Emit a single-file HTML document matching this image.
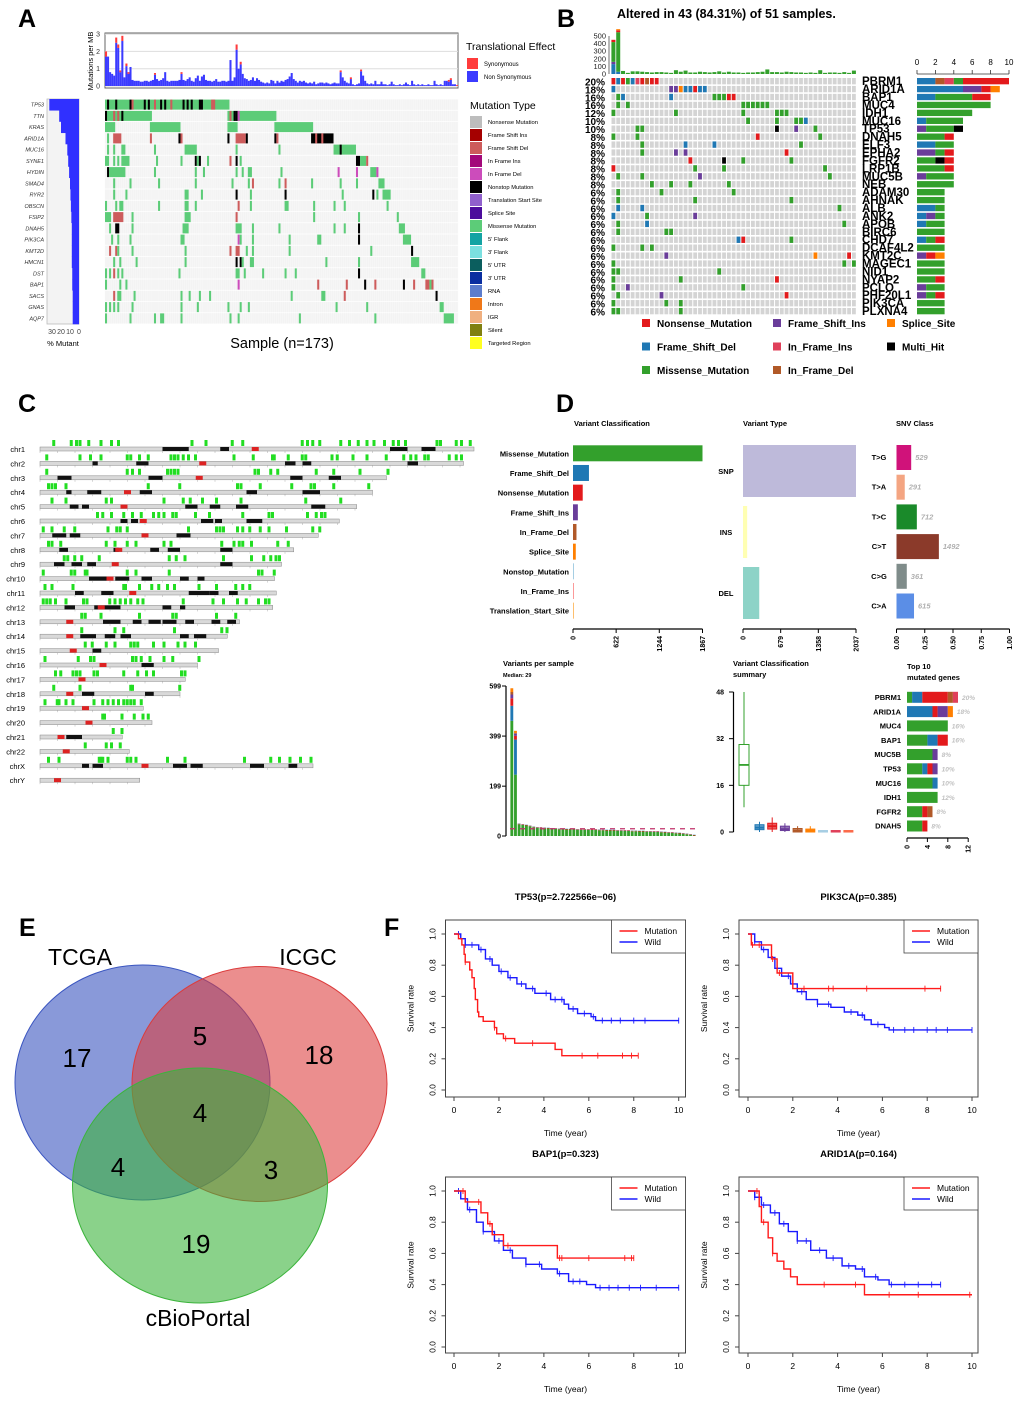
<!DOCTYPE html>
<html><head><meta charset="utf-8">
<style>
html,body{margin:0;padding:0;background:#fff;}
svg{display:block;font-family:"Liberation Sans",Arial,sans-serif;}
</style></head>
<body>
<svg id="fig" width="1020" height="1404" viewBox="0 0 1020 1404" xmlns="http://www.w3.org/2000/svg">
<rect width="1020" height="1404" fill="#fff"/>
<text x="18" y="27" font-size="25" font-weight="bold">A</text>
<text x="557" y="27" font-size="25" font-weight="bold">B</text>
<text x="18" y="412" font-size="25" font-weight="bold">C</text>
<text x="556" y="412" font-size="25" font-weight="bold">D</text>
<text x="19" y="936" font-size="25" font-weight="bold">E</text>
<text x="384" y="936" font-size="25" font-weight="bold">F</text>
<g id="gA"></g>
<g id="gB"></g>
<g id="gC"></g>
<g id="gD"></g>
<g id="gE"></g>
<g id="gF"></g>
</svg>
<script>
// ================= DATA =================
// Panel A
const aGenes = ['TP53','TTN','KRAS','ARID1A','MUC16','SYNE1','HYDIN','SMAD4','RYR2','OBSCN','FSIP2','DNAH5','PIK3CA','KMT2D','HMCN1','DST','BAP1','SACS','GNAS','AQP7'];
const aPctMutant = [33,22,20,15,13,12,11,10,9.5,9,8.5,8,8,8,8,7.5,7.5,7,7,7];
// segments "start-end:type" ; M missense, B nonstop, D frame shift del, I frame shift ins, F in frame del
const aSegments = [
 '0-60:M 1:B 5:B 12:B 13:D 19:B 21:B 24:D 27:B 29:B 32:D 38:B 40:B 42:B 46-47:B 52-53:D',
 '0-22:M 0:B 4:D 6:D 8:B 60-83:M 61:D 63:B 64:B 65:F',
 '0-4:M 22-36:M 60-64:M 83-101:M',
 '1:M 4-7:D 22:D 36:B 37:D 60:B 64-68:D 69:B 83:B 84:D 101-111:B 103:D 106:D',
 '1:M 4:M 8-9:M 24:M 39-44:M 64:M 85:M 112-122:M 115:B',
 '0-1:M 4:M 6:M 8-11:M 25:M 37:M 44:B 45:M 46:B 50:M 61:D 64:B 66:M 123-124:B 125-127:M 128:D',
 '1:B 2-9:M 24:M 44:M 48:M 64:M 67:M 70-71:M 86:M 114:F 123:F 130-132:M 133:F',
 '4:M 12:M 26:M 44:M 62:M 70:M 72:D 85:M 88:D 101:M 115:M 123:M 134-136:M',
 '4:M 10:M 39-40:M 47:M 64:B 71:M 88:B 116:M 131:B 133:M 136-139:M',
 '0:M 5:M 7-8:M 26:M 39-40:M 44:M 65:D 71:M 88-89:M 102:M 112:M 117:M 138:M',
 '0-2:M 4-8:D 13:M 39-41:M 64:D 102:M 124:M 143:M',
 '2:M 5-6:B 13:M 38-40:M 64-66:M 72:M 85:M 112:M 117:M 124:B 144-146:M',
 '3:M 6:M 12:M 37-38:M 65:F 66:M 72:M 90:M 104-105:M 124:B 146-149:M',
 '2:D 5:D 6:M 13:M 39:M 61:D 64-65:D 69:M 72:M 90:M 130:M 150:B',
 '4:M 7:M 15:M 39:M 64:B 66:B 67:M 71-72:M 108:M 124:M 150-153:M',
 '0:M 2:M 4:D 6:M 8:M 36:M 64-65:M 68:M 77:M 88:M 93:M 124:B 155-156:M',
 '0:M 7:M 10:M 65:F 104:D 118:D 127:B 132:D 146:B 151:D 157-158:D 159:M 160:D',
 '4:D 6-7:M 14:M 37:M 41:M 46:M 51:M 91:M 106-107:M 117:D 162:B',
 '0:M 2:M 4:M 6:M 13:M 37:M 45:M 60:M 66:M 70:M 113:M 128:M 164-165:M',
 '0:M 12:M 24:M 27-28:M 37:M 61:M 65:M 95:M 132:M 166-170:M'
];
const aTmb = [2.0,1.7,0.8,0.7,0.6,2.8,2.4,0.9,2.9,0.5,1.3,0.8,1.1,0.35,0.3,0.3,0.3,0.25,0.25,0.3,
0.3,0.25,0.3,0.35,0.75,0.4,0.3,0.35,0.45,0.8,0.3,0.25,0.3,0.3,0.3,0.3,0.35,0.8,0.35,0.3,
0.4,0.5,0.3,0.25,0.45,0.6,0.3,0.55,0.65,0.35,0.3,0.3,0.25,0.3,0.4,0.25,0.25,0.3,0.3,0.25,
0.3,1.5,0.3,0.5,2.4,1.0,1.4,0.7,0.45,0.4,0.3,0.35,0.5,0.3,0.45,0.35,0.25,0.2,0.15,0.2,
0.15,0.35,0.3,0.15,0.3,0.2,0.3,0.25,0.35,0.4,0.55,0.75,0.4,0.3,0.2,0.3,0.25,0.3,0.2,0.15,
0.2,0.15,0.25,0.1,0.15,0.2,0.2,0.15,0.2,0.15,0.1,0.15,0.2,0.15,0.15,0.9,0.5,0.3,0.2,0.15,
0.5,0.1,0.05,0.1,0.15,0.95,0.6,0.3,0.15,0.1,0.15,0.1,0.3,0.1,0.1,0.25,0.1,0.1,0.05,0.1,
0.25,0.1,0.05,0.05,0.1,0.05,0.1,0.2,0.1,0.05,0.3,0.1,0.05,0.1,0.05,0.1,0.05,0.05,0.1,0.05,
0.05,0.3,0.1,0.05,0.1,0.05,0.3,0.3,0.35,0.45,0.1,0.1,0.05];
const aSynSamples = [0,5,6,7,8,10,11,24,37,64,66,115,120,125,168,169,172];
const aSynValues = [0.3,0.3,0.2,0.1,0.3,0.15,0.1,0.1,0.1,0.3,0.15,0.1,0.1,0.1,0.1,0.1,0.05];
const aTmbTicks = [0,1,2,3];
const aPctTicks = [30,20,10,0];
const aMutTypes = ['Nonsense Mutation','Frame Shift Ins','Frame Shift Del','In Frame Ins','In Frame Del','Nonstop Mutation','Translation Start Site','Splice Site','Missense Mutation',"5' Flank","3' Flank","5' UTR","3' UTR",'RNA','Intron','IGR','Silent','Targeted Region'];
const aMutColors = ['#bdbdbd','#a50000','#cd5c5c','#a3087a','#cc4cbb','#000000','#9060cc','#4c0c9c','#5ccc78','#13a3a3','#7be0e0','#0b5e5e','#0a2ea0','#5c7ccc','#f07818','#f0b080','#808010','#ffff20'];

// Panel B
const bGenes = ['PBRM1','ARID1A','BAP1','MUC4','IDH1','MUC16','TP53','DNAH5','ELF3','EPHA2','FGFR2','LRP1B','MUC5B','NEB','ADAM30','AHNAK','ALB','ANK2','APOB','BIRC6','CHD7','DCAF4L2','KMT2C','MAGEC1','NID1','NYAP2','PCLO','PHF20L1','PIK3CA','PLXNA4'];
const bPct = ['20%','18%','16%','16%','12%','10%','10%','8%','8%','8%','8%','8%','8%','8%','6%','6%','6%','6%','6%','6%','6%','6%','6%','6%','6%','6%','6%','6%','6%','6%'];
// codes: N nonsense, D FS del, M missense, I FS ins, P in frame ins, X multi hit, S splice, R in frame del
const bCells = [
 '0N 1D 2N 3M 4D 5P 6N 7R 8N 9N','0D 12I 13I 14S 15D 16D 17N 18D 19D','1M 2D 12D 21M 22M 23M 24N 25N','1M 3M 27M 28M 29M 30M 31M 32M',
 '0M 13M 27M 34M 35M 36M','28M 34M 38M 39M 40D','5M 6M 34X 38I 42M','0M 5M 30N 43M','6M 15D 21D 39M','6M 13I 15I 36N',
 '16N 23X 27M 37M','0N 17M 23M 44M','1M 6M 18I 45M','8M 12M 16M 24M','1M 10M 25M','1M 17M 37M','1D 6D 47M','0D 7M 17I',
 '1M 7D 48M','1M 11M 12M','26D 27N 37M','0M 6M 8M','11I 42S 49N','0M 48M 50M','0M 1M 22M','0M 14M 34N','0M 3I 27M','1M 10I 36N','0M 11M 14M','0M 1M 14M'];
const bGeneCounts = [
 'D2 R1 P1 M1 N5','D5 I2 N1 S1','D2 M4 N2','M8','M6','D1 M4','I1 M3 X1','M3 N1','D2 M2','I2 M1 N1','M2 X1 N1','M3 N1','I1 M3','M4','M3','M3','D2 M1','D1 I1 M1','D1 M2','M3','D1 M1 N1','M3','I1 N1 S1','M3','M3','M2 N1','I1 M2','I1 M1 N1','M3','M3'];
const bSampleTotals = [450,590,40,15,35,35,30,25,20,25,25,20,15,50,30,45,20,20,30,25,20,25,35,20,30,20,20,15,20,20,25,30,60,25,25,20,30,25,20,20,15,20,15,50,15,20,20,15,25,15,45];
const bFirstSampleParts = [['D',130],['I',30],['M',260],['N',30]];
const bSecondSampleParts = [['D',30],['M',520],['N',25],['S',15]];
const bAxisTicks = [0,2,4,6,8,10];
const bTopTicks = [0,100,200,300,400,500];
const bLegendNames = ['Nonsense_Mutation','Frame_Shift_Ins','Splice_Site','Frame_Shift_Del','In_Frame_Ins','Multi_Hit','Missense_Mutation','In_Frame_Del'];
const bLegendCodes = ['N','I','S','D','P','X','M','R'];
const bColors = {N:'#e31a1c',D:'#1f78b4',M:'#33a02c',I:'#6a3d9a',P:'#e0405a',X:'#000000',S:'#ff7f00',R:'#b15928'};

// Panel C
const cChroms = ['chr1','chr2','chr3','chr4','chr5','chr6','chr7','chr8','chr9','chr10','chr11','chr12','chr13','chr14','chr15','chr16','chr17','chr18','chr19','chr20','chr21','chr22','chrX','chrY'];
const cLengths = [248,242,198,190,181,171,159,145,138,134,135,133,114,107,102,90,83,80,59,64,47,51,156,57];
const cCentromere = [123,93,91,50,48,59,60,45,43,40,53,35,17,17,19,36,24,17,26,28,12,15,60,10];
const cBands = [[[70,85],[103,108],[200,210],[218,226]],[[30,33],[55,62],[140,146],[150,155],[210,216]],[[10,18],[62,70],[143,150],[165,172]],[[15,18],[27,35],[57,64],[118,124],[150,160]],[[17,22],[24,28],[83,90],[97,103],[112,119],[155,163]],[[46,50],[52,56],[92,99],[100,104],[118,127]],[[7,15],[17,23],[78,86]],[[11,16],[42,45],[63,68],[73,80],[103,110]],[[8,14],[18,24],[27,32],[103,110]],[[28,38],[43,51],[58,64],[80,85],[90,94]],[[20,25],[35,42],[85,97],[97,102],[108,113]],[[14,20],[31,46],[70,75],[80,83]],[[36,46],[53,58],[62,69],[70,78],[83,88],[98,103],[107,112]],[[23,32],[37,43],[46,52],[80,85],[88,95]],[[30,35]],[[58,65]],[[]],[[24,31],[60,65]],[[]],[[]],[[15,24]],[[]],[[24,28],[30,36],[76,84],[86,93],[120,128],[142,147]],[[]]];
const cMutations = [
 [7,17,20,22,27,34,40,44,86,94,109,115,149,152,155,159,171,176,181,186,190,196,201,204,208,226,228,237,240,245],
 [3,22,28,34,49,51,56,61,74,76,78,81,84,88,110,121,132,133,141,149,151,166,169,178,186,197,207,211,214,219,221,233,237,240],
 [3,49,52,56,72,74,76,78,122,124,131,135,157,167,182,198],
 [4,6,8,14,61,79,112,114,125,143,154,156,167,187],
 [6,14,37,40,70,81,85,92,100,114,151,171],
 [32,35,40,47,52,57,64,67,70,75,77,88,96,115,130,132,152,157,160,162],
 [1,6,13,19,38,43,45,49,84,100,102,104,112,115,119,125,130,140,155,159],
 [4,6,11,37,42,49,54,70,74,103,110,113,115,120,135,141],
 [13,15,19,23,33,73,77,82,104,120,127,131,134,136],
 [1,17,19,25,26,49,54,73,124,126,133],
 [2,6,18,47,48,56,63,67,72,76,90,100,111,115,119],
 [1,3,5,8,14,24,26,39,42,45,48,51,55,58,81,98,104,112,117,124,128,130],
 [23,25,34,56,75,77,100,111],
 [23,42,47,76,103,106],
 [25,29,37,42,51,53,55,64,70,78,82,88],
 [2,21,28,30,52,54,57,62,70,75,90],
 [8,11,18,20,22,30,32,47,55,60,64,80,82],
 [7,22,51,52,79],
 [2,9,10,14,18,30,35,38,41,44,47,49,51,53,57],
 [35,36,46,53,58,61],
 [41,46],
 [25,37,40,45],
 [4,10,33,34,35,38,49,51,54,72,82,116,131,136,142,148,154],
 []
];
const cAxisTickStep = 10;

// Panel D
const dVcNames = ['Missense_Mutation','Frame_Shift_Del','Nonsense_Mutation','Frame_Shift_Ins','In_Frame_Del','Splice_Site','Nonstop_Mutation','In_Frame_Ins','Translation_Start_Site'];
const dVcValues = [1867,230,140,70,50,40,5,8,6];
const dVcColors = ['#33a02c','#1f78b4','#e31a1c','#6a3d9a','#b15928','#ff7f00','#a6cee3','#fb9a99','#fdbf6f'];
const dVcTicks = [0,622,1244,1867];
const dVtNames = ['SNP','INS','DEL'];
const dVtValues = [2037,75,293];
const dVtColors = ['#bebada','#ffffb3','#8dd3c7'];
const dVtTicks = [0,679,1358,2037];
const dSnvNames = ['T>G','T>A','T>C','C>T','C>G','C>A'];
const dSnvCounts = [529,291,712,1492,361,615];
const dSnvFractions = [0.13,0.073,0.18,0.375,0.091,0.155];
const dSnvColors = ['#d0127a','#f4a582','#1a8a2a','#8b3a2a','#7f8c8a','#5b8ee6'];
const dSnvTicks = ['0.00','0.25','0.50','0.75','1.00'];
const dVpsTotals = [590,420,50,47,45,42,38,36,35,34,33,32,31,30,30,29,29,29,28,28,28,27,27,27,26,26,25,25,25,24,24,23,23,22,22,21,21,20,20,19,19,18,17,16,15,14,13,12,10,8,5];
const dVpsFirst = [['M',460],['D',60],['N',30],['I',15],['R',10],['S',15]];
const dVpsSecond = [['M',245],['D',140],['N',15],['I',10],['S',10]];
const dVpsTicks = [0,199,399,599];
const dVpsMedian = 29;
const dBoxColors = ['#33a02c','#1f78b4','#e31a1c','#6a3d9a','#b15928','#ff7f00','#a6cee3','#e0405a','#fb6a4a'];
const dBoxQ1 = [16,0.8,1,0.5,0,0,0,0,0];
const dBoxMed = [23,1.5,2,1,0.5,0.5,0.3,0.3,0.3];
const dBoxQ3 = [30,2.5,3,2,1.2,1,0.5,0.5,0.5];
const dBoxMin = [8.5,0,0,0,0,0,0,0,0];
const dBoxMax = [48,3.5,5,3,2,2,0.5,0.5,0.5];
const dBoxTicks = [0,16,32,48];
const dTopGenes = ['PBRM1','ARID1A','MUC4','BAP1','MUC5B','TP53','MUC16','IDH1','FGFR2','DNAH5'];
const dTopParts = ['M1 D2 N5 R1 P1','D5 N1 I2 S1','M8','M4 D2 N2','M5 I1','M3 D1 N1 I1','M5 D1','M6','M3 N1 R1','M3 N1'];
const dTopPct = ['20%','18%','16%','16%','8%','10%','10%','12%','8%','8%'];
const dTopTicks = [0,4,8,12];

// Panel E
const eSetNames = ['TCGA','ICGC','cBioPortal'];
const eRegionCounts = [17,5,18,4,4,3,19];

// Panel F
const fTitles = ['TP53(p=2.722566e−06)','PIK3CA(p=0.385)','BAP1(p=0.323)','ARID1A(p=0.164)'];
const fMutT = [[0,0.2,0.35,0.45,0.5,0.7,0.8,0.9,0.95,1.05,1.1,1.3,1.8,1.9,2.2,2.7,4.5,4.8,8.2],[0,0.15,1.05,1.3,2,8.6],[0,0.5,1.2,1.5,1.7,2.2,4.6,8],[0,0.5,0.6,0.9,1.1,1.3,1.6,1.9,2.2,5.2,10]];
const fMutS = [[1,0.97,0.93,0.87,0.82,0.77,0.72,0.65,0.58,0.5,0.47,0.44,0.4,0.36,0.33,0.3,0.26,0.22,0.22],[1,0.93,0.84,0.75,0.65,0.65],[1,0.93,0.86,0.79,0.72,0.65,0.57,0.57],[1,0.9,0.8,0.7,0.6,0.55,0.5,0.45,0.4,0.335,0.335]];
const fWildT = [[0,0.3,0.5,1.1,1.4,1.7,2,2.4,2.8,3.2,3.6,4.3,4.9,5.1,5.5,6.1,6.3,10],[0,0.3,0.6,0.9,1.2,1.5,1.9,2.2,2.6,3.1,3.7,4.3,4.9,5.2,5.5,6.1,6.3,10],[0,0.3,0.6,1,1.3,1.8,2.2,2.6,3.2,3.9,4.6,5.1,5.9,6.3,10],[0,0.3,0.6,1,1.4,1.8,2.2,2.8,3.5,4.2,4.8,5.2,5.8,6.3,8.6]];
const fWildS = [[1,0.97,0.93,0.9,0.84,0.8,0.76,0.72,0.68,0.65,0.62,0.58,0.55,0.52,0.49,0.47,0.445,0.445],[1,0.95,0.9,0.85,0.78,0.73,0.68,0.63,0.58,0.55,0.53,0.5,0.48,0.45,0.42,0.4,0.385,0.385],[1,0.95,0.88,0.8,0.74,0.68,0.62,0.57,0.53,0.5,0.47,0.42,0.4,0.38,0.38],[1,0.96,0.91,0.86,0.79,0.74,0.68,0.62,0.57,0.52,0.5,0.45,0.43,0.4,0.4]];
const fMutCensor = [[0.5,1.8,2.3,3.5,5.7,6.4,7.5,7.9,8.2],[0.2,0.5,1.1,1.4,2.5,3.6,3.8,5.3,7.9,8.6],[0.4,1.1,1.6,2.4,4.7,4.8,6,7.6,7.9,8],[0.4,0.7,1.1,3.4,4.8,6.3,7.6,9.9]];
const fWildCensor = [[0.2,0.5,0.8,1.2,1.6,2.1,2.5,3,3.5,4.1,4.5,4.8,5.3,5.8,6.2,6.6,7,7.4,8,8.5,10],[0.3,0.7,1.3,1.8,2.4,3.1,3.6,4.6,5.1,5.8,6.5,7,7.4,8,8.4,8.9,10],[0.2,0.7,1.3,2,2.5,3.2,3.8,4.7,5.3,5.6,6.5,6.9,7.3,7.8,8.3,9,10],[0.3,0.7,1.2,1.6,2.2,2.6,3.2,3.8,4.5,5.1,5.7,6.4,7,7.6,8.2,8.6]];
const fXTicks = [0,2,4,6,8,10];
const fYTicks = ['0.0','0.2','0.4','0.6','0.8','1.0'];

// ================= DRAW =================
const NS = 'http://www.w3.org/2000/svg';
function mk(tag, attrs, parent){
  const e = document.createElementNS(NS, tag);
  for (const k in attrs) e.setAttribute(k, attrs[k]);
  parent.appendChild(e);
  return e;
}
function tx(x, y, s, attrs, parent){
  const e = mk('text', Object.assign({x:x, y:y}, attrs), parent);
  e.textContent = s;
  return e;
}
function parseCodes(str){ return str.split(' ').filter(Boolean).map(t=>[t[0], parseFloat(t.slice(1))]); }

// ---------- Panel A ----------
(function(){
  const g = document.getElementById('gA');
  const gx0 = 105, gx1 = 458, gy0 = 99, rowH = 11.25, n = 173;
  const sw = (gx1-gx0)/n;
  const sx = i => gx0 + i*sw;
  const tmbY = v => 86 - v*17.3;
  // top frame
  let e = mk('rect',{x:gx0,y:33,width:gx1-gx0,height:55,fill:'#fff',stroke:'#666','stroke-width':1},g);
  
  
  aTmbTicks.forEach(t=>{
    e = mk('line',{x1:gx0,x2:gx1,y1:tmbY(t),y2:tmbY(t),stroke:'#ddd','stroke-width':1},g);
    
    
    e = tx(gx0-5,tmbY(t)+2.5,String(t),{'font-size':7,'text-anchor':'end',fill:'#333'},g);
    
    
  });
  e = tx(0,0,'Mutations per MB',{'font-size':7.5,'text-anchor':'middle',transform:'translate(93,61) rotate(-90)'},g);
  
  
  aTmb.forEach((v,i)=>{
    const si = aSynSamples.indexOf(i);
    const syn = si>=0 ? aSynValues[si] : 0;
    const non = v - syn;
    e = mk('rect',{x:sx(i),y:tmbY(non),width:sw,height:non*17.3,fill:'#3b3bff'},g);
    
    
    if (syn>0){
      e = mk('rect',{x:sx(i),y:tmbY(v),width:sw,height:syn*17.3,fill:'#ff3b3b'},g);
      
      
    }
  });
  // translational legend
  e = tx(466,50,'Translational Effect',{'font-size':10.5},g);
  
  
  [['Synonymous','#ff3b3b',58],['Non Synonymous','#3b3bff',71]].forEach(([n2,c,y])=>{
    e = mk('rect',{x:467,y:y,width:11,height:11,fill:c},g);
    
    
    e = tx(484,y+8,n2,{'font-size':6},g);
    
    
  });
  // grid background
  e = mk('rect',{x:gx0,y:gy0,width:gx1-gx0,height:rowH*20,fill:'#f3f3f3'},g);
  
  
  for (let i=0;i<=n;i+=1){
    e = mk('line',{x1:sx(i),x2:sx(i),y1:gy0,y2:gy0+rowH*20,stroke:'#fbfbfb','stroke-width':0.4},g);
    
    
  }
  const codeColor = {M:'#5ccc78',B:'#000',D:'#cd5c5c',I:'#a50000',F:'#cc4cbb'};
  aSegments.forEach((segs,r)=>{
    const y = gy0 + r*rowH + 0.6;
    segs.split(' ').forEach(s=>{
      const [rng,t] = s.split(':');
      const p = rng.split('-').map(Number);
      const a = p[0], b = p.length>1 ? p[1] : p[0];
      e = mk('rect',{x:sx(a),y:y,width:(b-a+1)*sw,height:rowH-1.2,fill:codeColor[t]},g);
      
      
    });
  });
  for (let r=0;r<=20;r++){
    e = mk('line',{x1:gx0,x2:gx1,y1:gy0+r*rowH,y2:gy0+r*rowH,stroke:'#fff','stroke-width':0.8},g);
    
    
  }
  // left bar
  const lx0 = 47, lx1 = 79;
  const px = p => lx1 - p*0.9;
  e = mk('rect',{x:lx0,y:gy0,width:lx1-lx0,height:rowH*20,fill:'#f3f3f3',stroke:'#bbb','stroke-width':0.8},g);
  
  
  aPctMutant.forEach((p,r)=>{
    e = mk('rect',{x:px(p),y:gy0+r*rowH,width:p*0.9,height:rowH+0.3,fill:'#3030ff'},g);
    
    
    e = tx(44,gy0+r*rowH+rowH/2+2,aGenes[r],{'font-size':5.5,'font-style':'italic','text-anchor':'end',fill:'#333'},g);
    
    
  });
  aPctTicks.forEach(t=>{
    e = tx(px(t),334,String(t),{'font-size':7,'text-anchor':'middle',fill:'#444'},g);
    
    
  });
  e = tx(63,346,'% Mutant',{'font-size':7.5,'text-anchor':'middle'},g);
  
  
  e = tx(282,348,'Sample (n=173)',{'font-size':14.5,'text-anchor':'middle'},g);
  
  
  e = tx(470,109,'Mutation Type',{'font-size':10.5},g);
  
  
  aMutTypes.forEach((m,i)=>{
    const y = 116 + i*13;
    e = mk('rect',{x:470,y:y,width:12,height:12,fill:aMutColors[i]},g);
    
    
    e = tx(488,y+8,m,{'font-size':5.8},g);
    
    
  });
})();

// ---------- Panel B ----------
(function(){
  const g = document.getElementById('gB');
  const x0 = 611, cw = 4.81, y0 = 78, rh = 7.93;
  let e = tx(617,18,'Altered in 43 (84.31%) of 51 samples.',{'font-size':12.5,'font-weight':'bold'},g);
  
  
  const topY = v => 74 - v*0.076;
  bTopTicks.forEach(t=>{
    e = tx(606,topY(t)+2.5,String(t),{'font-size':7.5,'text-anchor':'end',fill:'#222'},g);
    
    
  });
  e = mk('line',{x1:609,x2:609,y1:topY(500),y2:74,stroke:'#333','stroke-width':0.7},g);
  
  
  bSampleTotals.forEach((v,i)=>{
    let parts = i===0 ? bFirstSampleParts : (i===1 ? bSecondSampleParts : [['M',v]]);
    let acc = 0;
    parts.forEach(([c,val])=>{
      e = mk('rect',{x:x0+i*cw+0.4,y:topY(acc+val),width:cw-0.8,height:val*0.076,fill:bColors[c]},g);
      
      
      acc += val;
    });
  });
  bGenes.forEach((gn,r)=>{
    const y = y0 + r*rh;
    for (let c=0;c<51;c++){
      e = mk('rect',{x:x0+c*cw+0.5,y:y,width:cw-1,height:rh-1.6,fill:'#d4d4d4'},g);
      
      
    }
    bCells[r].split(' ').forEach(t=>{
      const c = parseInt(t), code = t.slice(-1);
      e = mk('rect',{x:x0+c*cw+0.5,y:y,width:cw-1,height:rh-1.6,fill:bColors[code]},g);
      
      
    });
    e = tx(605,y+rh-0.5,bPct[r],{'font-size':10,'font-weight':'bold','text-anchor':'end'},g);
    
    
    e = tx(862,y+rh-0.8,gn,{'font-size':11.5,'font-weight':'bold'},g);
    
    
    let acc = 0;
    parseCodes(bGeneCounts[r]).forEach(([c,v])=>{
      e = mk('rect',{x:917+acc*9.2,y:y,width:v*9.2,height:rh-1.6,fill:bColors[c]},g);
      
      
      acc += v;
    });
  });
  e = mk('line',{x1:917,x2:1009,y1:74,y2:74,stroke:'#333','stroke-width':0.8},g);
  
  
  bAxisTicks.forEach(t=>{
    e = mk('line',{x1:917+t*9.2,x2:917+t*9.2,y1:70,y2:74,stroke:'#333','stroke-width':0.8},g);
    
    
    e = tx(917+t*9.2,65,String(t),{'font-size':8,'text-anchor':'middle'},g);
    
    
  });
  bLegendNames.forEach((nm,i)=>{
    const col = i%3, row = Math.floor(i/3);
    const x = [642,773,887][col], y = 323 + row*23.5;
    e = mk('rect',{x:x,y:y-4,width:8,height:8,fill:bColors[bLegendCodes[i]]},g);
    
    
    e = tx(x+15,y+4,nm,{'font-size':10,'font-weight':'bold'},g);
    
    
  });
})();

// ---------- Panel C ----------
(function(){
  const g = document.getElementById('gC');
  const x0 = 40, k = 1.75, y0 = 450, dy = 14.4;
  cChroms.forEach((ch,i)=>{
    const y = y0 + i*dy;
    let e = tx(25,y+2,ch,{'font-size':7.5,'text-anchor':'end'},g);
    
    
    cMutations[i].forEach(m=>{
      e = mk('rect',{x:x0+m*k,y:y-10,width:3,height:6,fill:'#22dd22'},g);
      
      
    });
    e = mk('rect',{x:x0,y:y-3,width:cLengths[i]*k,height:4,fill:'#d9d9d9',stroke:'#888','stroke-width':0.5},g);
    
    
    cBands[i].forEach(b=>{
      if (b.length<2) return;
      e = mk('rect',{x:x0+b[0]*k,y:y-3,width:(b[1]-b[0])*k,height:4,fill:'#111'},g);
      
      
    });
    e = mk('rect',{x:x0+(cCentromere[i]-2)*k,y:y-3,width:4*k,height:4,fill:'#d22'},g);
    
    
    for (let t=0;t<=cLengths[i];t+=cAxisTickStep){
      e = mk('line',{x1:x0+t*k,x2:x0+t*k,y1:y+1,y2:y+3,stroke:'#999','stroke-width':0.4},g);
      
      
    }
  });
})();

// ---------- Panel D ----------
(function(){
  const g = document.getElementById('gD');
  let e;
  const title = (x,y,s)=>{ const t = tx(x,y,s,{'font-size':7.5,'font-weight':'bold'},g); return t; };
  e = title(574,426,'Variant Classification');
  
  
  e = title(743,426,'Variant Type');
  
  
  e = title(896,426,'SNV Class');
  
  
  // Variant classification
  const vcX = v => 573 + v/1867*129.5;
  dVcNames.forEach((nm,i)=>{
    const yc = 453.3 + i*19.67;
    e = mk('rect',{x:573,y:yc-8,width:Math.max(1,vcX(dVcValues[i])-573),height:16,fill:dVcColors[i]},g);
    
    
    e = tx(569,yc+3,nm,{'font-size':7.5,'font-weight':'bold','text-anchor':'end'},g);
    
    
  });
  const axis = (x0,x1,y,ticks,fx,name)=>{
    let a = mk('line',{x1:x0,x2:x1,y1:y,y2:y,stroke:'#000','stroke-width':1.3},g);
    
    
    ticks.forEach(t=>{
      const x = fx(t);
      a = mk('line',{x1:x,x2:x,y1:y,y2:y+4,stroke:'#000','stroke-width':1},g);
      
      
      a = tx(0,0,String(t),{'font-size':7,'font-weight':'bold','text-anchor':'end',transform:'translate('+(x+2.5)+','+(y+7)+') rotate(-90)'},g);
      
      
    });
  };
  axis(573,702.5,629,dVcTicks,vcX,'d-vc');
  const vtX = v => 743 + v/2037*113;
  dVtNames.forEach((nm,i)=>{
    const y = 445 + i*61;
    e = mk('rect',{x:743,y:y,width:vtX(dVtValues[i])-743,height:52,fill:dVtColors[i]},g);
    
    
    e = tx(726,y+29,nm,{'font-size':7.5,'font-weight':'bold','text-anchor':'middle'},g);
    
    
  });
  axis(743,856,629,dVtTicks,vtX,'d-vt');
  const snX = v => 896.5 + v*113;
  dSnvNames.forEach((nm,i)=>{
    const y = 445 + i*29.7;
    e = mk('rect',{x:896.5,y:y,width:dSnvFractions[i]*113,height:25,fill:dSnvColors[i]},g);
    
    
    e = tx(879,y+15,nm,{'font-size':7.5,'font-weight':'bold','text-anchor':'middle'},g);
    
    
    e = tx(snX(dSnvFractions[i])+4,y+15,String(dSnvCounts[i]),{'font-size':7.5,'font-style':'italic','font-weight':'bold',fill:'#b0b0b0'},g);
    
    
  });
  axis(896.5,1009.5,629,dSnvTicks,t=>snX(parseFloat(t)),'d-snv');
  // Variants per sample
  e = title(503,666,'Variants per sample');
  
  
  e = tx(503,677,'Median: 29',{'font-size':5.5,'font-weight':'bold'},g);
  
  
  const vpsY = v => 836 - v/599*150;
  e = mk('line',{x1:506,x2:506,y1:vpsY(599),y2:836,stroke:'#000','stroke-width':1.2},g);
  
  
  dVpsTicks.forEach(t=>{
    e = mk('line',{x1:502,x2:506,y1:vpsY(t),y2:vpsY(t),stroke:'#000'},g);
    
    
    e = tx(501,vpsY(t)+2.5,String(t),{'font-size':7,'font-weight':'bold','text-anchor':'end'},g);
    
    
  });
  const bw = (696-510)/dVpsTotals.length;
  dVpsTotals.forEach((v,i)=>{
    const parts = i===0 ? dVpsFirst : (i===1 ? dVpsSecond : [['M',v-3],['N',2],['D',1]]);
    let acc = 0;
    parts.forEach(([c,val])=>{
      e = mk('rect',{x:510+i*bw+0.4,y:vpsY(acc+val),width:bw-0.8,height:val/599*150,fill:bColors[c]},g);
      
      
      acc += val;
    });
  });
  e = mk('line',{x1:510,x2:696,y1:vpsY(dVpsMedian),y2:vpsY(dVpsMedian),stroke:'#c0306a','stroke-width':1.2,'stroke-dasharray':'5,5'},g);
  
  
  // VC summary
  e = title(733,666,'Variant Classification');
  
  
  e = title(733,677,'summary');
  
  
  const bxY = v => 832 - v/48*140;
  e = mk('line',{x1:733.5,x2:733.5,y1:bxY(48),y2:bxY(0),stroke:'#000','stroke-width':1.2},g);
  
  
  dBoxTicks.forEach(t=>{
    e = mk('line',{x1:729,x2:733.5,y1:bxY(t),y2:bxY(t),stroke:'#000'},g);
    
    
    e = tx(724,bxY(t)+2.5,String(t),{'font-size':7,'font-weight':'bold','text-anchor':'end'},g);
    
    
  });
  dBoxColors.forEach((c,i)=>{
    const cx = i===0 ? 744 : 755 + (i-1)*12.7 + 4.5, w = i===0 ? 10 : 9;
    e = mk('line',{x1:cx,x2:cx,y1:bxY(dBoxMax[i]),y2:bxY(dBoxMin[i]),stroke:c,'stroke-width':1},g);
    
    
    e = mk('rect',{x:cx-w/2,y:bxY(dBoxQ3[i]),width:w,height:Math.max(1.5,bxY(dBoxQ1[i])-bxY(dBoxQ3[i])),fill:i===0?'#fff':c,'fill-opacity':i===0?1:0.7,stroke:c,'stroke-width':1},g);
    
    
    e = mk('line',{x1:cx-w/2,x2:cx+w/2,y1:bxY(dBoxMed[i]),y2:bxY(dBoxMed[i]),stroke:c,'stroke-width':1.8},g);
    
    
  });
  // Top 10
  e = title(907,669,'Top 10');
  
  
  e = title(907,680,'mutated genes');
  
  
  const tX = v => 907 + v*5.1;
  dTopGenes.forEach((gn,i)=>{
    const yc = 697.3 + i*14.3;
    let acc = 0;
    parseCodes(dTopParts[i]).forEach(([c,v])=>{
      e = mk('rect',{x:tX(acc),y:yc-5.5,width:v*5.1,height:11,fill:bColors[c]},g);
      
      
      acc += v;
    });
    e = tx(901,yc+2.7,gn,{'font-size':7.5,'font-weight':'bold','text-anchor':'end'},g);
    
    
    e = tx(tX(acc)+4,yc+2.5,dTopPct[i],{'font-size':6.5,'font-style':'italic','font-weight':'bold',fill:'#c0c0c0'},g);
    
    
  });
  axis(907,968,838,dTopTicks,tX,'d-top10');
})();

// ---------- Panel E ----------
(function(){
  const g = document.getElementById('gE');
  let e;
  const circles = [[142.5,1082.5,'#3a55c0',0.6],[259.5,1084,'#dc3c3c',0.58],[200,1185.5,'#3cb43c',0.6]];
  circles.forEach((c,i)=>{
    e = mk('ellipse',{cx:c[0],cy:c[1],rx:127.5,ry:117.5,fill:c[2],'fill-opacity':c[3],stroke:c[2],'stroke-width':1},g);
    
    
  });
  const labelPos = [[80,965],[308,965],[198,1326]];
  eSetNames.forEach((s,i)=>{
    e = tx(labelPos[i][0],labelPos[i][1],s,{'font-size':23,'text-anchor':'middle'},g);
    
    
  });
  const numPos = [[77,1067],[200,1045],[319,1064],[200,1122],[118,1176],[271,1179],[196,1253]];
  eRegionCounts.forEach((n,i)=>{
    e = tx(numPos[i][0],numPos[i][1],String(n),{'font-size':26,'text-anchor':'middle'},g);
    
    
  });
})();

// ---------- Panel F ----------
(function(){
  const g = document.getElementById('gF');
  const frames = [[445.5,685.5,920,1097,454,678.7,934,1090],[739,978,920,1097,748,972,934,1090],[445.5,685.5,1177,1353,454,678.7,1191,1347],[739,978,1177,1353,748,972,1191,1347]];
  frames.forEach((f,p)=>{
    const [fx0,fx1,fy0,fy1,dx0,dx1,dy1,dy0] = f;
    const X = t => dx0 + t/10*(dx1-dx0);
    const Y = s => dy0 - s*(dy0-dy1);
    let e = mk('rect',{x:fx0,y:fy0,width:fx1-fx0,height:fy1-fy0,fill:'none',stroke:'#444','stroke-width':1},g);
    
    
    e = tx((fx0+fx1)/2,fy0-20,fTitles[p],{'font-size':9.5,'font-weight':'bold','text-anchor':'middle'},g);
    
    
    fXTicks.forEach(t=>{
      e = mk('line',{x1:X(t),x2:X(t),y1:fy1,y2:fy1+4,stroke:'#444'},g);
      
      
      e = tx(X(t),fy1+16,String(t),{'font-size':8.5,'text-anchor':'middle'},g);
      
      
    });
    fYTicks.forEach(t=>{
      const y = Y(parseFloat(t));
      e = mk('line',{x1:fx0-4,x2:fx0,y1:y,y2:y,stroke:'#444'},g);
      
      
      e = tx(0,0,t,{'font-size':8.5,'text-anchor':'middle',transform:'translate('+(fx0-10)+','+y+') rotate(-90)'},g);
      
      
    });
    e = tx((fx0+fx1)/2,fy1+39,'Time (year)',{'font-size':8.5,'text-anchor':'middle'},g);
    
    
    e = tx(0,0,'Survival rate',{'font-size':8.5,'text-anchor':'middle',transform:'translate('+(fx0-32)+','+((fy0+fy1)/2)+') rotate(-90)'},g);
    
    
    const drawCurve = (T,S,C,col,name)=>{
      let d = 'M'+X(T[0])+','+Y(S[0]);
      for (let i=1;i<T.length;i++){ d += ' H'+X(T[i])+' V'+Y(S[i]); }
      let c = mk('path',{d:d,fill:'none',stroke:col,'stroke-width':1.4},g);
      
      
      C.forEach(t=>{
        let s = S[0];
        for (let i=0;i<T.length;i++){ if (T[i]<=t) s = S[i]; }
        c = mk('line',{x1:X(t),x2:X(t),y1:Y(s)-3,y2:Y(s)+3,stroke:col,'stroke-width':0.9},g);
        
        
      });
    };
    drawCurve(fWildT[p],fWildS[p],fWildCensor[p],'#1a1aff','km-wild-curve');
    drawCurve(fMutT[p],fMutS[p],fMutCensor[p],'#ff1a1a','km-mutation-curve');
    const lx = fx1-74;
    e = mk('rect',{x:lx,y:fy0,width:74,height:33,fill:'#fff',stroke:'#444','stroke-width':0.8},g);
    
    
    [['Mutation','#ff1a1a',fy0+11],['Wild','#1a1aff',fy0+22]].forEach(([n,c,y])=>{
      e = mk('line',{x1:lx+8,x2:lx+26,y1:y,y2:y,stroke:c,'stroke-width':1.6},g);
      
      
      e = tx(lx+33,y+3,n,{'font-size':8.5},g);
      
      
    });
  });
})();
</script>
</body></html>
